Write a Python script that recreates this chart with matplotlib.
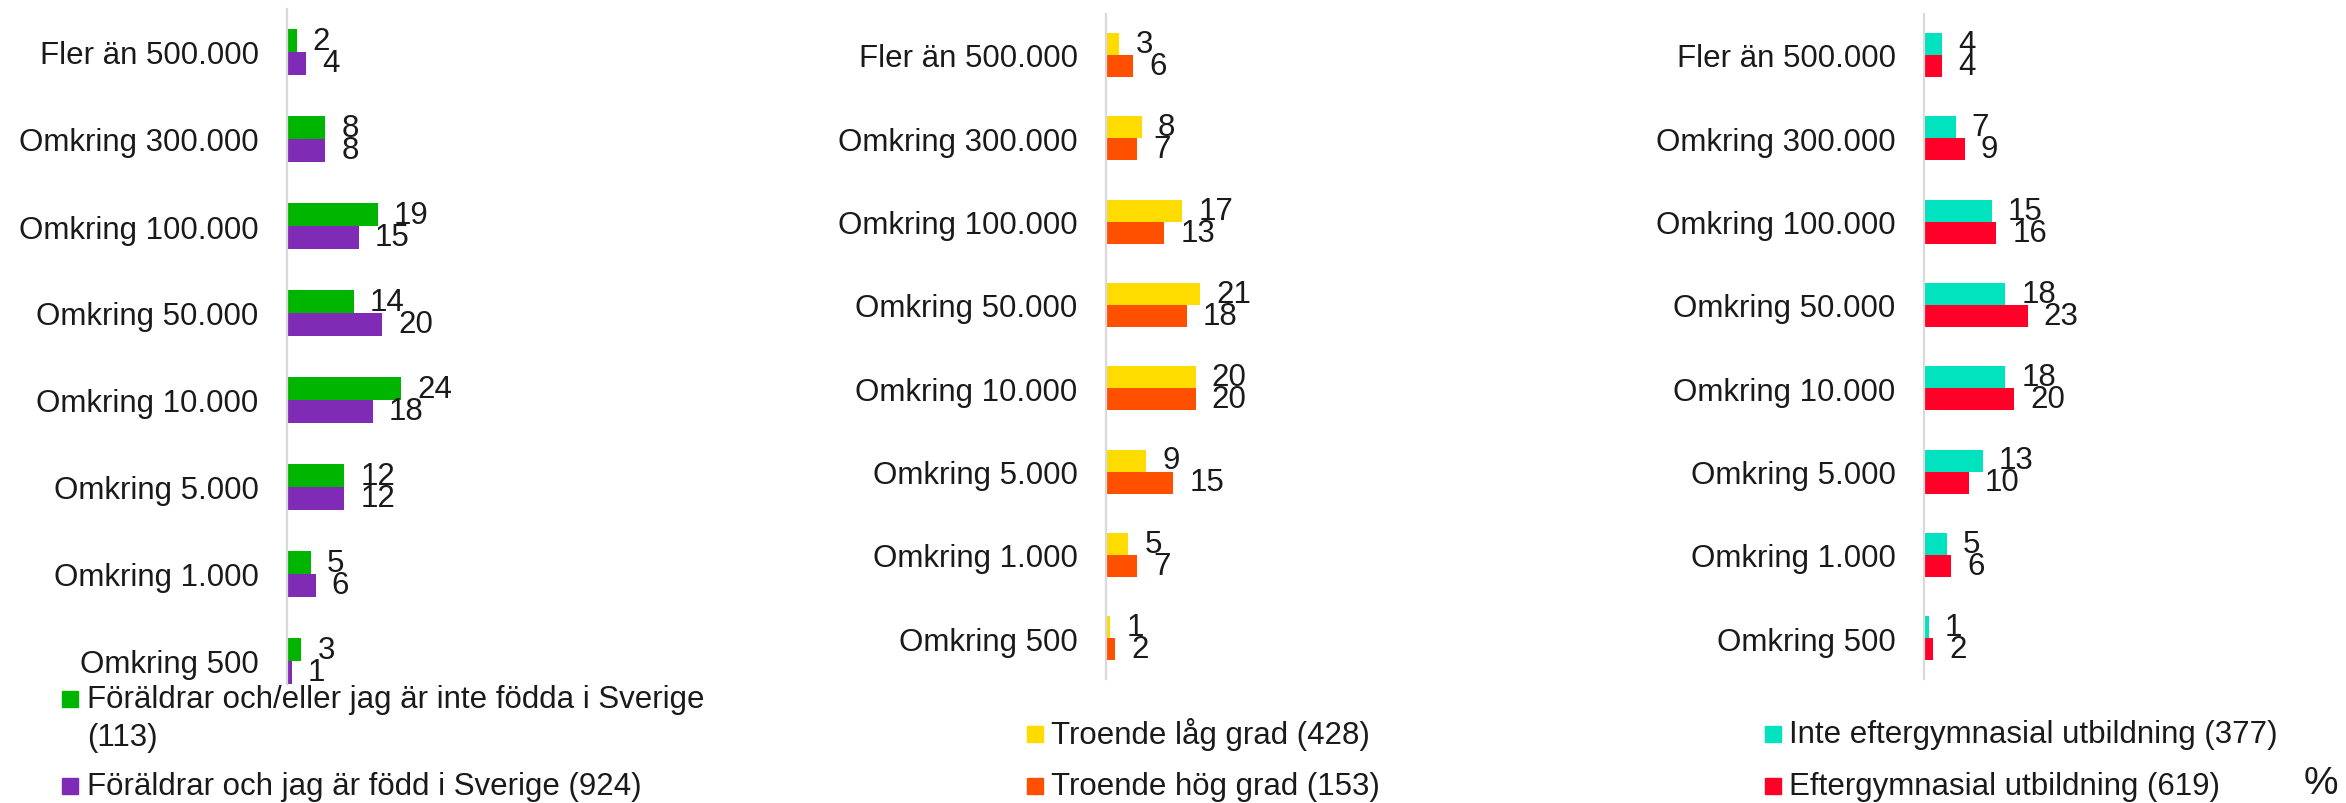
import matplotlib
matplotlib.use("Agg")
import matplotlib.pyplot as plt
from matplotlib.patches import Rectangle

plt.rcParams['font.family'] = ['Liberation Sans', 'DejaVu Sans']

W, H = 2346, 804
fig = plt.figure(figsize=(W / 100, H / 100), dpi=100, facecolor='white')

# Dataset
categories = ["Fler än 500.000", "Omkring 300.000", "Omkring 100.000", "Omkring 50.000",
              "Omkring 10.000", "Omkring 5.000", "Omkring 1.000", "Omkring 500"]

born_abroad = [2, 8, 19, 14, 24, 12, 5, 3]
born_sweden = [4, 8, 15, 20, 18, 12, 6, 1]
faith_low = [3, 8, 17, 21, 20, 9, 5, 1]
faith_high = [6, 7, 13, 18, 20, 15, 7, 2]
no_higher_edu = [4, 7, 15, 18, 18, 13, 5, 1]
higher_edu = [4, 9, 16, 23, 20, 10, 6, 2]

labels_1 = ["Föräldrar och/eller jag är inte födda i Sverige\n(113)",
            "Föräldrar och jag är född i Sverige (924)"]
labels_2 = ["Troende låg grad (428)", "Troende hög grad (153)"]
labels_3 = ["Inte eftergymnasial utbildning (377)", "Eftergymnasial utbildning (619)"]

colors_1 = ["#00B500", "#7F2BB6"]
colors_2 = ["#FFDC00", "#FF5000"]
colors_3 = ["#00E3BE", "#FF0029"]

TXT = "#1A1A1A"
FS = 22.5


def fx(px):
    return px / W


def fy(py):
    return 1 - py / H


def panel(left, top, bottom, first_center, step, scale, bar_px, vals_a, vals_b, cols):
    ax = fig.add_axes([fx(left), fy(bottom), 360 / W, (bottom - top) / H])
    h = bar_px / step
    y = range(len(categories))
    c1 = ax.barh([i - h / 2 for i in y], vals_a, height=h, color=cols[0])
    c2 = ax.barh([i + h / 2 for i in y], vals_b, height=h, color=cols[1])
    ax.bar_label(c1, padding=11.5, fontsize=FS, color=TXT)
    ax.bar_label(c2, padding=11.5, fontsize=FS, color=TXT)
    ytop = -(first_center - top) / step
    ax.set_ylim(ytop + (bottom - top) / step, ytop)
    ax.set_xlim(0, 360 / scale)
    ax.set_yticks(list(y))
    ax.set_yticklabels(categories, fontsize=FS, color=TXT)
    ax.tick_params(axis='y', length=0, pad=20.5)
    ax.set_xticks([])
    for s in ['top', 'right', 'bottom']:
        ax.spines[s].set_visible(False)
    ax.spines['left'].set_color('#D9D9D9')
    ax.spines['left'].set_linewidth(1.6)
    ax.patch.set_alpha(0)
    return ax


panel(287, 10, 685, 53, 87, 4.77, 22.7, born_abroad, born_sweden, colors_1)
panel(1106, 15, 680, 56, 83.3, 4.49, 22, faith_low, faith_high, colors_2)
panel(1924, 15, 680, 56, 83.3, 4.51, 22, no_higher_edu, higher_edu, colors_3)


def legend_entry(mx, tx, y, label, color):
    fig.patches.append(Rectangle((fx(mx), fy(y + 8)), 16 / W, 16 / H,
                                 transform=fig.transFigure, color=color, figure=fig))
    fig.text(fx(tx), fy(y), label, fontsize=FS, color=TXT, va='center', ha='left')


first_line, second_line = labels_1[0].split("\n")
legend_entry(62, 87, 700, first_line, colors_1[0])
fig.text(fx(87), fy(738), second_line, fontsize=FS, color=TXT, va='center', ha='left')
legend_entry(62, 87, 787, labels_1[1], colors_1[1])
legend_entry(1027, 1051, 735, labels_2[0], colors_2[0])
legend_entry(1027, 1051, 787, labels_2[1], colors_2[1])
legend_entry(1765, 1789, 735, labels_3[0], colors_3[0])
legend_entry(1765, 1789, 787, labels_3[1], colors_3[1])

fig.text(fx(2304), fy(784), "%", fontsize=28, color=TXT, va='center', ha='left')

fig.savefig("out.png", dpi=100, facecolor='white')
